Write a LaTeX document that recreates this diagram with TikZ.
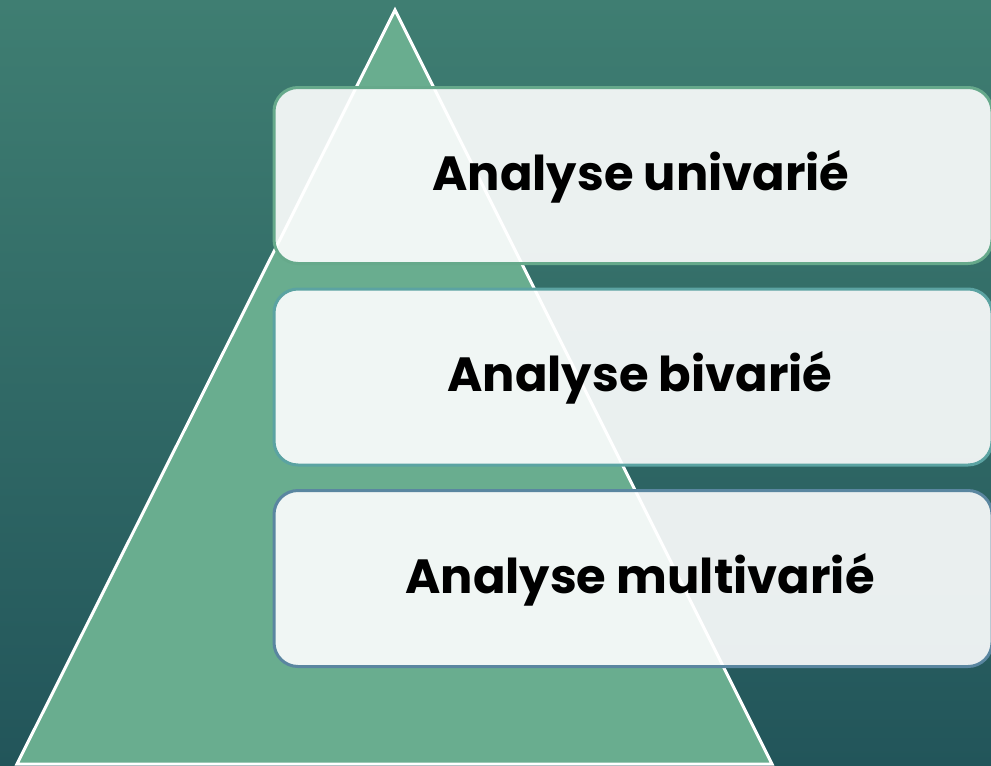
\documentclass[tikz,border=0pt]{standalone}
\usepackage{fontspec}
\setmainfont{Poppins}
\usepackage{tikz}
\usetikzlibrary{positioning}

\definecolor{bgtop}{HTML}{3F7E72}
\definecolor{bgbot}{HTML}{22555A}
\definecolor{pyr}{HTML}{69AD8F}
\definecolor{edgeA}{HTML}{66A98B}
\definecolor{edgeB}{HTML}{5BA3A2}
\definecolor{edgeC}{HTML}{5A86A0}

\begin{document}
\begin{tikzpicture}[x=1pt, y=-1pt,
  level/.style={rectangle, draw, line width=3pt, rounded corners=24pt,
                fill=white, fill opacity=0.9,
                minimum width=718pt, minimum height=176pt},
  title/.style={font=\fontsize{48}{52}\selectfont\bfseries},
  edge/.style={draw=white, line width=3pt, line join=miter}
]
\useasboundingbox (0,0) rectangle (991,766);
\clip (0,0) rectangle (991,766);
\shade[shading angle=170, top color=bgtop, bottom color=bgbot]
  (0,0) rectangle (991,766);

% pyramid
\coordinate (apex) at (395,10);
\coordinate (baseL) at (17,764);
\coordinate (baseR) at (772,764);
\fill[pyr] (apex) -- (baseR) -- (baseL) -- cycle;
\draw[edge] (baseL) -- (apex) -- (baseR) -- cycle;

% levels
\node[level, draw=edgeA] (uni) at (633,175.5) {};
\node[level, draw=edgeB] (bi) at (633,377) {};
\node[level, draw=edgeC] (multi) at (633,578.5) {};
\node[title] (uniT) at (641,177) {Analyse univarié};
\node[title] (biT) at (640,378) {Analyse bivarié};
\node[title] (multiT) at (640,580) {Analyse multivarié};
\end{tikzpicture}
\end{document}
